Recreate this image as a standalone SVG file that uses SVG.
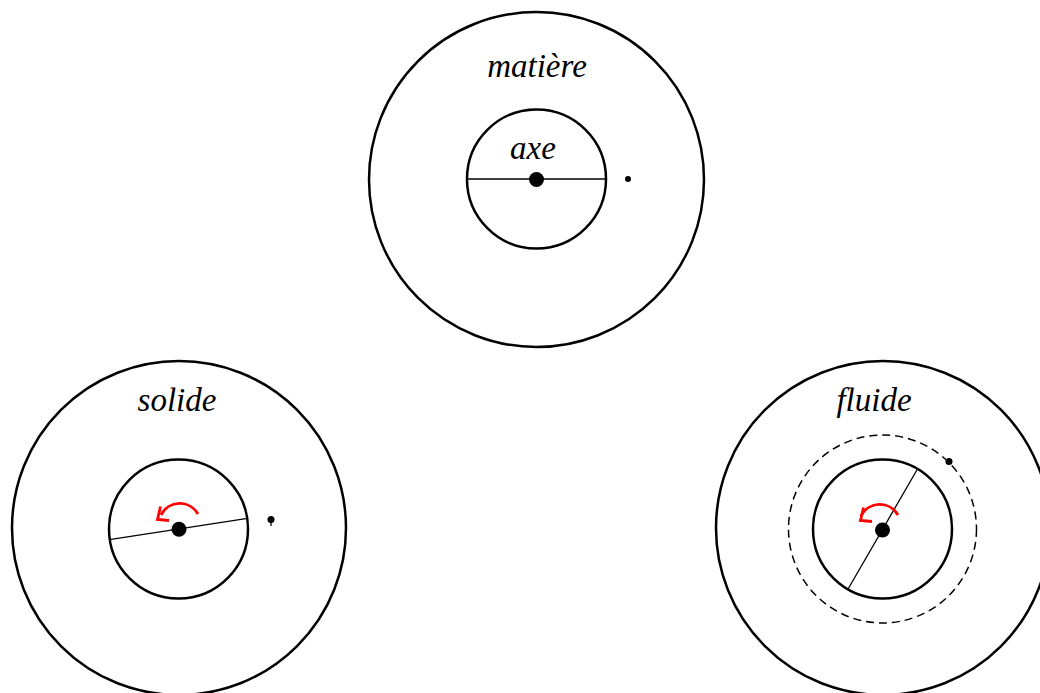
<svg xmlns="http://www.w3.org/2000/svg" width="1040" height="693" viewBox="0 0 1040 693">
<style>
.ring{fill:none;stroke:#000;stroke-width:2.5}
.dash{fill:none;stroke:#000;stroke-width:1.5;stroke-dasharray:8 5}
.axis{stroke:#000;stroke-width:1.3;fill:none}
.hub{fill:#000}
.rot{fill:none;stroke:#ff0000;stroke-width:2.8;stroke-linecap:butt;stroke-linejoin:miter}
.lbl{font-family:"Liberation Serif","Times New Roman",serif;font-style:italic;font-size:33px;fill:#000;text-anchor:middle}
</style>
<rect width="1040" height="693" fill="#fff"/>
<g id="matiere">
  <circle class="ring" cx="536.5" cy="179.5" r="167.5"/>
  <circle class="ring" cx="536.5" cy="179" r="69.5"/>
  <line class="axis" x1="467" y1="179" x2="606" y2="179"/>
  <circle class="hub" cx="536.5" cy="179.5" r="7.5"/>
  <circle class="hub" cx="628" cy="179" r="3"/>
  <text class="lbl" x="537" y="77">matière</text>
  <text class="lbl" x="533" y="159">axe</text>
</g>
<g id="solide">
  <circle class="ring" cx="179" cy="528" r="167"/>
  <circle class="ring" cx="178.5" cy="529" r="69.5"/>
  <line class="axis" x1="109.5" y1="539.7" x2="247.5" y2="518.3"/>
  <circle class="hub" cx="179" cy="529.3" r="7.5"/>
  <path class="rot" d="M198,514 A21,21 0 0 0 161,515"/>
  <path class="rot" d="M160.5,506.5 L157.5,519.5 L169,520.5"/>
  <circle class="hub" cx="271" cy="519.5" r="3.5"/>
  <line class="axis" x1="271" y1="519" x2="271" y2="526" stroke-width="1.5"/>
  <text class="lbl" x="177" y="411">solide</text>
</g>
<g id="fluide">
  <circle class="ring" cx="883" cy="528" r="167"/>
  <circle class="dash" cx="882.5" cy="529" r="94"/>
  <circle class="ring" cx="882.5" cy="529" r="69.5"/>
  <line class="axis" x1="917.5" y1="469" x2="847.5" y2="590"/>
  <circle class="hub" cx="882.5" cy="530" r="7.5"/>
  <path class="rot" d="M898,515 A21,21 0 0 0 861,516"/>
  <path class="rot" d="M863.5,507.5 L860.5,520.5 L872,521.5"/>
  <circle class="hub" cx="949" cy="461.5" r="3.5"/>
  <text class="lbl" x="874" y="411">fluide</text>
</g>
<g id="connectors"></g>
</svg>
